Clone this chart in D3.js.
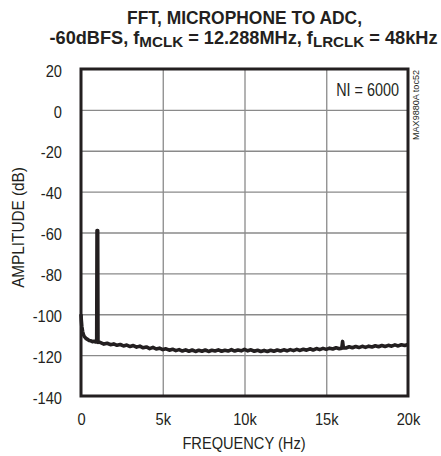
<!DOCTYPE html>
<html><head><meta charset="utf-8">
<script src="https://cdn.jsdelivr.net/npm/d3@7"></script>
<style>
html,body{margin:0;padding:0;background:#fff;}
svg text{font-family:"Liberation Sans Narrow","Liberation Sans",Arial,sans-serif;fill:#231f20;}
</style></head>
<body><svg id="c" width="441" height="456"></svg>
<script>
// ---- data ----
const freqHz = [0,20,50,100,150,200,300,400,500,600,700,800,900,960,980,1020,1040,1100,
1200,1400,1600,1800,2000,2200,2400,2600,2800,3000,3200,3400,3600,3800,4000,4200,4400,4600,4800,
5000,5200,5400,5600,5800,6000,6200,6400,6600,6800,7000,7200,7400,7600,7800,8000,8200,8400,8600,8800,
9000,9200,9400,9600,9800,10000,10200,10400,10600,10800,11000,11200,11400,11600,11800,12000,12200,12400,
12600,12800,13000,13200,13400,13600,13800,14000,14200,14400,14600,14800,15000,15200,15400,15600,15800,
15950,16000,16050,16200,16400,16600,16800,17000,17200,17400,17600,17800,18000,18200,18400,18600,18800,
19000,19200,19400,19600,19800,20000];
const ampDb = [-100,-103,-106,-108.5,-110,-110.8,-111.8,-112.3,-112.8,-113,-113.4,-113.2,-113.6,-113.5,-59,-59,-113.8,-113.6,
-113.9,-114.6,-114.2,-114.9,-114.5,-115.2,-114.8,-115.5,-115.1,-115.8,-115.3,-116.1,-115.6,-116.4,-116.0,-116.8,-116.2,-117.0,-116.6,
-117.3,-116.9,-117.6,-117.1,-117.8,-117.3,-118.0,-117.4,-118.1,-117.5,-118.2,-117.6,-118.1,-117.5,-118.2,-117.6,-118.0,-117.4,-118.1,-117.6,
-118.0,-117.3,-118.0,-117.5,-117.9,-117.2,-117.9,-117.4,-118.1,-117.6,-118.2,-117.7,-118.2,-117.6,-118.1,-117.5,-118.0,-117.4,
-117.9,-117.3,-117.8,-117.2,-117.7,-117.1,-117.6,-116.9,-117.5,-116.8,-117.3,-116.7,-117.2,-116.6,-117.0,-116.4,-116.9,
-116.6,-113.3,-116.5,-116.5,-115.9,-116.4,-115.8,-116.3,-115.7,-116.2,-115.6,-116.0,-115.4,-115.9,-115.3,-115.8,-115.2,
-115.6,-115.0,-115.5,-114.9,-115.3,-114.8];
const xTickValues = [0,5000,10000,15000,20000];
const xTickLabels = ["0","5k","10k","15k","20k"];
const yTickValues = [20,0,-20,-40,-60,-80,-100,-120,-140];
const titleLine1 = "FFT, MICROPHONE TO ADC,";
const xTitle = "FREQUENCY (Hz)";
const yTitle = "AMPLITUDE (dB)";
const note = "NI = 6000";
const figId = "MAX9880A toc52";

// ---- layout ----
const L = 81, R = 408, T = 69, B = 396;
const ink = "#231f20";
const FS = 17, SQ = 0.86;
const svg = d3.select("#c");
const x = d3.scaleLinear().domain([0,20000]).range([L,R]);
const y = d3.scaleLinear().domain([-140,20]).range([B,T]);

function condense(sel, f){
  sel.each(function(){
    const len = this.getComputedTextLength();
    d3.select(this).attr("textLength", len*f).attr("lengthAdjust","spacingAndGlyphs");
  });
}

// grid
svg.append("g").attr("transform",`translate(0,${B})`)
  .call(d3.axisBottom(x).tickValues(xTickValues.slice(1,-1)).tickSize(-(B-T)).tickFormat(""))
  .call(g=>{g.select(".domain").remove(); g.selectAll("line").attr("stroke","#8a8a8a").attr("stroke-width",1.3);});
svg.append("g").attr("transform",`translate(${L},0)`)
  .call(d3.axisLeft(y).tickValues(yTickValues.slice(1,-1)).tickSize(-(R-L)).tickFormat(""))
  .call(g=>{g.select(".domain").remove(); g.selectAll("line").attr("stroke","#8a8a8a").attr("stroke-width",1.3);});

// tick labels
svg.append("g").attr("transform",`translate(${L},0)`)
  .call(d3.axisLeft(y).tickValues(yTickValues).tickSize(0).tickPadding(19).tickFormat(d=>d))
  .call(g=>{g.select(".domain").remove();
    g.selectAll("text").attr("font-size",FS).attr("fill",ink).attr("font-family",null).attr("dy","0.42em").call(condense,SQ);});
svg.append("g").attr("transform",`translate(0,${B})`)
  .call(d3.axisBottom(x).tickValues(xTickValues).tickSize(0).tickPadding(17).tickFormat((d,i)=>xTickLabels[i]))
  .call(g=>{g.select(".domain").remove();
    g.selectAll("text").attr("font-size",FS).attr("fill",ink).attr("font-family",null).call(condense,SQ);});

// trace
const pts = freqHz.map((f,i)=>[f,ampDb[i]]);
svg.append("path").datum(pts)
  .attr("d", d3.line().x(d=>x(d[0])).y(d=>y(d[1])))
  .attr("fill","none").attr("stroke",ink).attr("stroke-width",3.6).attr("stroke-linejoin","round");

// frame
svg.append("rect").attr("x",L).attr("y",T).attr("width",R-L).attr("height",B-T)
  .attr("fill","none").attr("stroke",ink).attr("stroke-width",3);

// titles
svg.append("text").attr("x",244.5).attr("y",23.5).attr("text-anchor","middle")
  .attr("font-size",18).attr("font-weight","bold")
  .attr("textLength",235).attr("lengthAdjust","spacingAndGlyphs").text(titleLine1);
const t2 = svg.append("text").attr("x",243.5).attr("y",43.5).attr("text-anchor","middle")
  .attr("font-size",18).attr("font-weight","bold")
  .attr("textLength",388).attr("lengthAdjust","spacingAndGlyphs");
t2.append("tspan").text("-60dBFS, f");
t2.append("tspan").attr("font-size",15).attr("dy",3).text("MCLK");
t2.append("tspan").attr("dy",-3).text(" = 12.288MHz, f");
t2.append("tspan").attr("font-size",15).attr("dy",3).text("LRCLK");
t2.append("tspan").attr("dy",-3).text(" = 48kHz");

svg.append("text").attr("x",244).attr("y",449).attr("text-anchor","middle")
  .attr("font-size",FS).text(xTitle).call(condense,SQ);
svg.append("text").attr("transform",`translate(24,227.5) rotate(-90)`).attr("text-anchor","middle")
  .attr("font-size",FS).text(yTitle).call(condense,0.9);
svg.append("text").attr("x",399).attr("y",96).attr("text-anchor","end")
  .attr("font-size",18).text(note).call(condense,0.8);
svg.append("text").attr("transform","translate(419,140) rotate(-90)")
  .attr("font-size",9).attr("textLength",70).attr("lengthAdjust","spacingAndGlyphs").text(figId);
</script></body></html>
